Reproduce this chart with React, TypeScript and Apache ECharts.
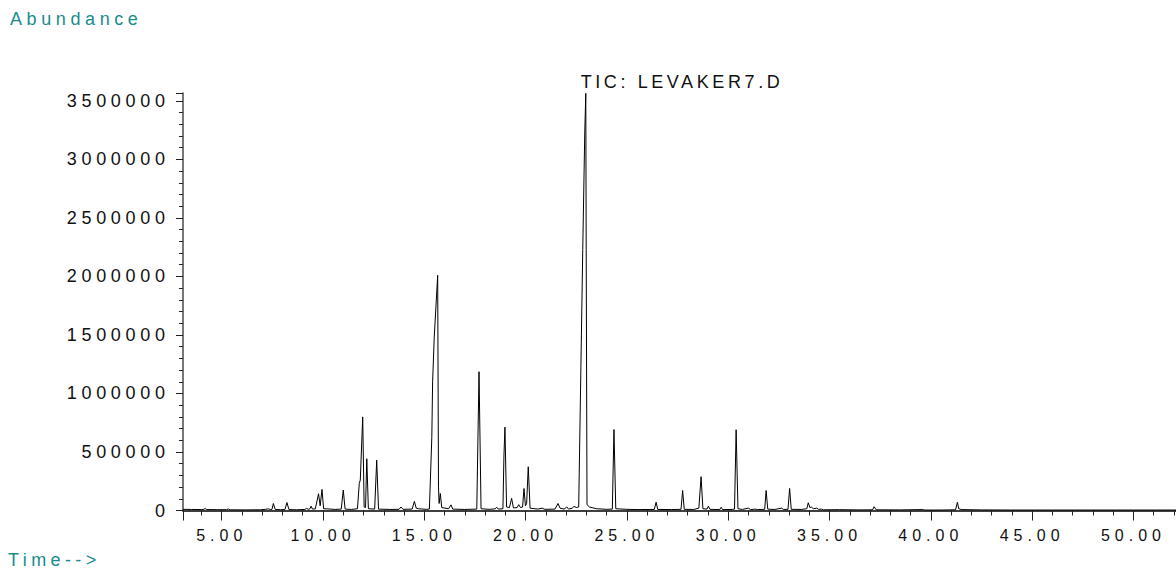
import React, { useEffect, useRef } from "react";
import * as echarts from "echarts";

// Retention time (min), paired with abundance values below
const retentionTimes = [
  3.09, 3.5, 4.0, 4.12, 4.18, 4.26, 4.8, 5.25, 5.33, 5.42, 6.2, 6.9, 7.15, 7.3, 7.42,
  7.48, 7.55, 7.64, 7.9, 8.12, 8.22, 8.32, 8.7, 9.1, 9.19, 9.28, 9.35, 9.41, 9.48, 9.62,
  9.78, 9.86, 9.95, 10.03, 10.3, 10.6, 10.9, 11.0, 11.09, 11.4, 11.7, 11.79, 11.84, 11.96, 12.03,
  12.1, 12.16, 12.24, 12.55, 12.65, 12.74, 13.3, 13.75, 13.85, 13.95, 14.4, 14.51, 14.6, 14.7, 15.1,
  15.25, 15.37, 15.41, 15.49, 15.66, 15.7, 15.73, 15.79, 15.86, 16.2, 16.32, 16.4, 17.0, 17.59, 17.7,
  17.8, 18.2, 18.5, 18.57, 18.65, 18.88, 18.93, 18.98, 19.06, 19.2, 19.31, 19.4, 19.58, 19.66, 19.75,
  19.85, 19.92, 19.99, 20.05, 20.13, 20.22, 20.6, 20.82, 20.95, 21.45, 21.6, 21.7, 21.9, 22.03, 22.12,
  22.3, 22.39, 22.5, 22.62, 22.82, 22.92, 22.97, 22.99, 23.03, 23.15, 23.5, 24.0, 24.28, 24.36, 24.45,
  25.0, 25.5, 26.35, 26.44, 26.52, 27.2, 27.67, 27.75, 27.83, 28.3, 28.55, 28.66, 28.75, 28.95, 29.02,
  29.1, 29.58, 29.65, 29.72, 30.2, 30.31, 30.39, 30.48, 30.7, 30.99, 31.1, 31.32, 31.45, 31.8, 31.87,
  31.95, 32.1, 32.3, 32.64, 32.72, 32.95, 33.03, 33.11, 33.6, 33.88, 33.95, 34.03, 34.1, 34.2, 34.37,
  34.45, 34.6, 34.7, 35.5, 36.5, 37.12, 37.2, 37.3, 38.5, 39.6, 39.7, 40.5, 41.22, 41.31, 41.38,
  41.5, 42.5, 44.0, 46.0, 48.0, 50.0, 52.1,
];

const abundances = [
  10000, 9000, 8000, 9000, 18000, 8000, 7000, 7000, 13000, 6000, 5000, 6000, 10000, 14000, 8000,
  9000, 60000, 9000, 7000, 8000, 68000, 8000, 6000, 9000, 18000, 10000, 14000, 37000, 12000, 14000,
  143000, 40000, 180000, 15000, 13000, 9000, 12000, 175000, 12000, 9000, 15000, 230000, 260000, 800000, 30000,
  25000, 442000, 15000, 12000, 430000, 12000, 9000, 10000, 30000, 10000, 12000, 78000, 20000, 15000, 10000,
  12000, 621000, 1099000, 1483000, 2010000, 200000, 60000, 145000, 25000, 15000, 48000, 12000, 9000, 12000, 1186000,
  15000, 10000, 14000, 28000, 12000, 15000, 465000, 712000, 30000, 25000, 103000, 22000, 25000, 50000, 25000,
  30000, 188000, 40000, 60000, 374000, 20000, 12000, 20000, 10000, 12000, 60000, 20000, 12000, 30000, 12000,
  20000, 35000, 25000, 30000, 2231000, 3235000, 3565000, 2230000, 50000, 30000, 15000, 10000, 12000, 692000, 15000,
  10000, 8000, 9000, 71000, 9000, 8000, 10000, 171000, 10000, 9000, 20000, 289000, 15000, 12000, 37000,
  10000, 8000, 28000, 8000, 9000, 12000, 690000, 15000, 9000, 20000, 8000, 12000, 8000, 10000, 171000,
  12000, 10000, 9000, 20000, 9000, 10000, 188000, 10000, 9000, 15000, 66000, 25000, 30000, 15000, 20000,
  10000, 12000, 6000, 7000, 5000, 6000, 32000, 6000, 5000, 8000, 4000, 4000, 6000, 70000, 15000,
  8000, 5000, 4000, 4000, 4000, 4000, 4000,
];

const timeRange = [3.09, 52.1];
const abundanceRange = [0, 3565000];
const abundanceStep = 500000;
const timeStep = 5;

const chartTitle = "TIC: LEVAKER7.D";
const yAxisTitle = "Abundance";
const xAxisTitle = "Time-->";

const TEAL = "#188c8c";
const FONT = "'Liberation Sans', Arial, sans-serif";

export default function App() {
  const ref = useRef<HTMLDivElement>(null);

  useEffect(() => {
    const el = ref.current;
    if (!el) return;
    const chart = echarts.init(el, null, { renderer: "svg" });
    const data = retentionTimes.map((t, i) => [t, abundances[i]]);

    chart.setOption({
      animation: false,
      backgroundColor: "#ffffff",
      grid: {
        left: 183,
        right: 0,
        top: 93.3,
        bottom: 59.5,
        containLabel: false,
        outerBoundsMode: "none",
      },
      xAxis: {
        type: "value",
        min: timeRange[0],
        max: timeRange[1],
        minInterval: timeStep,
        maxInterval: timeStep,
        splitNumber: 10,
        axisLine: { show: true, onZero: false, lineStyle: { color: "#000", width: 1.6 } },
        axisTick: { show: true, length: 10, lineStyle: { color: "#222", width: 1 } },
        minorTick: { show: true, splitNumber: 5, length: 5, lineStyle: { color: "#222", width: 1 } },
        splitLine: { show: false },
        axisLabel: {
          showMinLabel: false,
          showMaxLabel: false,
          formatter: (v: number) => v.toFixed(2),
          fontSize: 16,
          fontFamily: FONT,
          color: "#111",
          margin: 17,
        },
      },
      yAxis: {
        type: "value",
        min: abundanceRange[0],
        max: abundanceRange[1],
        interval: abundanceStep,
        axisLine: { show: true, lineStyle: { color: "#777", width: 2 } },
        axisTick: { show: true, length: 7, lineStyle: { color: "#222", width: 1 } },
        minorTick: { show: true, splitNumber: 5, length: 4, lineStyle: { color: "#222", width: 1 } },
        splitLine: { show: false },
        axisLabel: {
          showMaxLabel: false,
          formatter: (v: number) => String(v),
          fontSize: 18,
          fontFamily: FONT,
          color: "#111",
          margin: 13.3,
        },
      },
      graphic: [
        {
          type: "text",
          x: 10,
          y: 19,
          style: {
            text: yAxisTitle,
            fill: TEAL,
            fontSize: 18,
            fontFamily: FONT,
            align: "left",
            verticalAlign: "middle",
          },
        },
        {
          type: "text",
          x: 8,
          y: 560,
          style: {
            text: xAxisTitle,
            fill: TEAL,
            fontSize: 18,
            fontFamily: FONT,
            align: "left",
            verticalAlign: "middle",
          },
        },
        {
          type: "text",
          x: 682,
          y: 82,
          style: {
            text: chartTitle,
            fill: "#111",
            fontSize: 18,
            fontFamily: FONT,
            align: "center",
            verticalAlign: "middle",
          },
        },
      ],
      series: [
        {
          type: "line",
          data,
          symbol: "none",
          lineStyle: { color: "#000", width: 1 },
          itemStyle: { color: "#000" },
          silent: true,
        },
      ],
    });

    const spaceLetters = () => {
      el.querySelectorAll("text").forEach((node) => {
        const s = node.textContent || "";
        let ls = 4.6;
        if (/^\d+$/.test(s)) ls = 4.7;
        else if (/^\d+\.\d+$/.test(s)) ls = 5;
        else if (s.startsWith("TIC")) ls = 3.6;
        else if (s.startsWith("Time")) ls = 4.4;
        (node as SVGTextElement).style.letterSpacing = ls + "px";
      });
    };
    spaceLetters();
    chart.on("finished", spaceLetters);

    return () => {
      chart.dispose();
    };
  }, []);

  return (
    <div
      ref={ref}
      style={{ position: "fixed", left: 0, top: 0, width: 1176, height: 570 }}
    />
  );
}
